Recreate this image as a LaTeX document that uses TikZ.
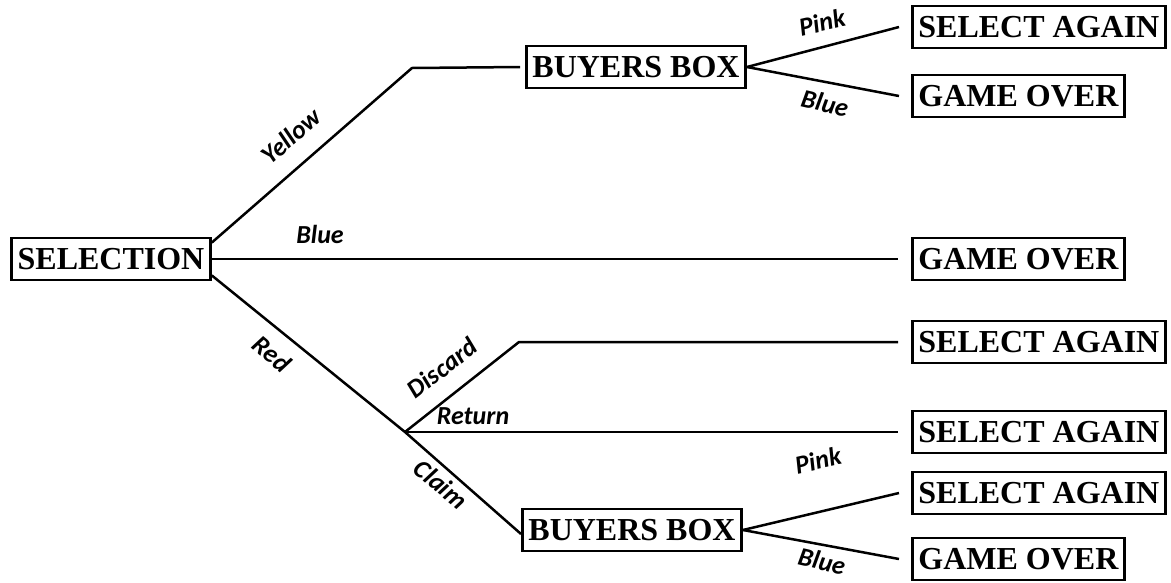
\documentclass[tikz,border=0pt]{standalone}
\usepackage{fontspec}
\setmainfont{Liberation Serif}
\newfontfamily\lblfont{Carlito}
\begin{document}
\begin{tikzpicture}[x=1pt,y=-1pt,
  box/.style={draw,line width=2.8pt,font=\fontsize{32}{34}\selectfont\bfseries,
    text height=22pt,text depth=1pt,inner xsep=6pt,inner ysep=9.5pt},
  rbox/.style={box,anchor=west},
  conn/.style={line width=2.5pt},
  lbl/.style={font=\lblfont\fontsize{26}{28}\selectfont\bfseries\itshape,inner sep=0pt}]
\useasboundingbox (0,0) rectangle (1171,582);
% boxes
\node[box] (sel) at (111,259) {SELECTION};
\node[box] (bb1) at (636,67) {BUYERS BOX};
\node[box] (bb2) at (632,530) {BUYERS BOX};
\node[rbox] (sa1) at (911,27) {SELECT AGAIN};
\node[rbox] (go1) at (911,96) {GAME OVER};
\node[rbox] (go2) at (911,259) {GAME OVER};
\node[rbox] (sa2) at (911,342) {SELECT AGAIN};
\node[rbox] (sa3) at (911,432) {SELECT AGAIN};
\node[rbox] (sa4) at (911,493) {SELECT AGAIN};
\node[rbox] (go3) at (911,559) {GAME OVER};
% bend points
\coordinate (ybend) at (412,68);
\coordinate (j) at (405,432);
\coordinate (dbend) at (519,342);
% connectors
\draw[conn] ([yshift=-6pt]sel.north east) -- (ybend) -- ([xshift=-5pt]bb1.west);
\draw[conn] (sel.east) -- ([xshift=-13pt]go2.west);
\draw[conn] ([yshift=6pt]sel.south east) -- (j) -- ([yshift=-4pt]bb2.west);
\draw[conn] (j) -- (dbend) -- ([xshift=-13pt]sa2.west);
\draw[conn] (j) -- ([xshift=-13pt]sa3.west);
\draw[conn] (bb1.east) -- ([xshift=-12pt]sa1.west);
\draw[conn] (bb1.east) -- ([xshift=-12pt]go1.west);
\draw[conn] (bb2.east) -- ([xshift=-12pt]sa4.west);
\draw[conn] (bb2.east) -- ([xshift=-12pt]go3.west);
% labels
\node[lbl,rotate=41] (lyellow) at (291,136) {Yellow};
\node[lbl] (lblue) at (320,234) {Blue};
\node[lbl,rotate=-40] (lred) at (272,354) {Red};
\node[lbl,rotate=38] (ldiscard) at (442,368) {Discard};
\node[lbl] (lreturn) at (473,416) {Return};
\node[lbl,rotate=-40] (lclaim) at (441,484) {Claim};
\node[lbl,rotate=13] (lpink1) at (822,22) {Pink};
\node[lbl,rotate=-13] (lblue1) at (825,103) {Blue};
\node[lbl,rotate=13] (lpink2) at (818,460) {Pink};
\node[lbl,rotate=-13] (lblue2) at (822,561) {Blue};
\end{tikzpicture}
\end{document}
